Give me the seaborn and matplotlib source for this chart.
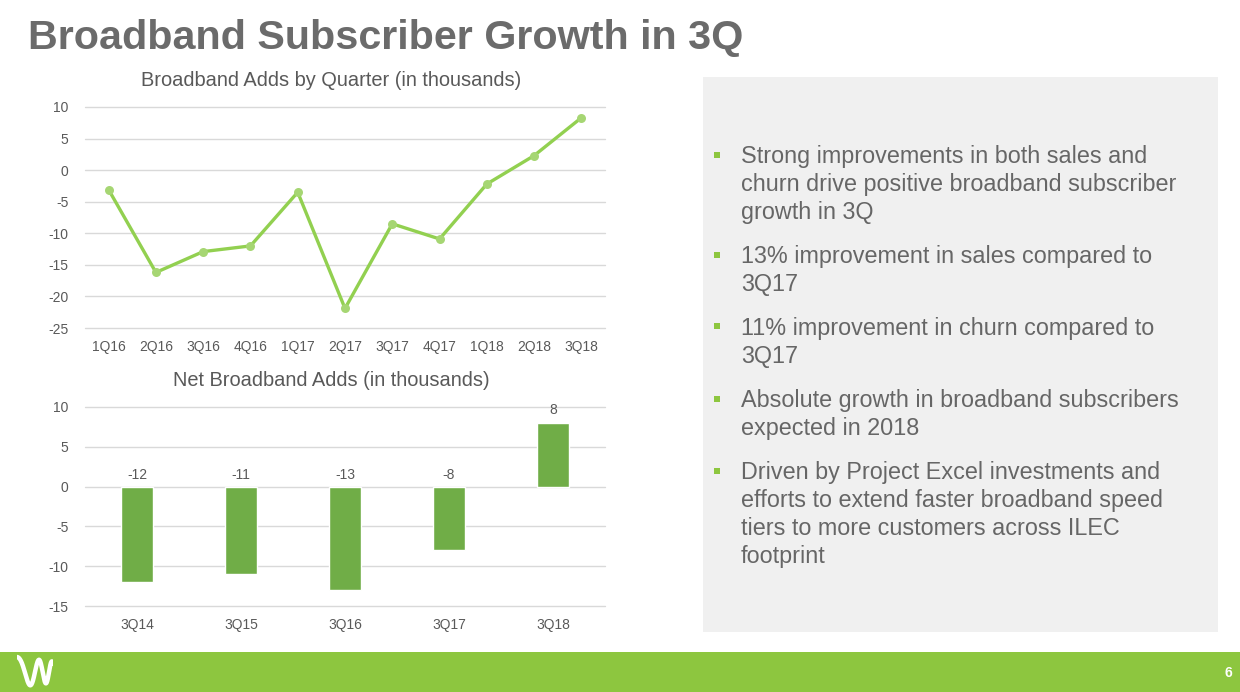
import numpy as np
import pandas as pd
import matplotlib
matplotlib.use("Agg")
import matplotlib.pyplot as plt
from matplotlib.patches import Rectangle
import seaborn as sns

# ---------------- data ----------------
quarters = ["1Q16", "2Q16", "3Q16", "4Q16", "1Q17", "2Q17", "3Q17", "4Q17", "1Q18", "2Q18", "3Q18"]
adds_by_quarter = [-3.1, -16.2, -12.9, -12.0, -3.5, -21.9, -8.5, -10.9, -2.2, 2.3, 8.3]

years = ["3Q14", "3Q15", "3Q16", "3Q17", "3Q18"]
net_adds = [-12, -11, -13, -8, 8]
net_labels = ["-12", "-11", "-13", "-8", "8"]

top_yticks = [10, 5, 0, -5, -10, -15, -20, -25]
bot_yticks = [10, 5, 0, -5, -10, -15]

title = "Broadband Subscriber Growth in 3Q"
top_title = "Broadband Adds by Quarter (in thousands)"
bot_title = "Net Broadband Adds (in thousands)"
bullets = [
    ["Strong improvements in both sales and", "churn drive positive broadband subscriber", "growth in 3Q"],
    ["13% improvement in sales compared to", "3Q17"],
    ["11% improvement in churn compared to", "3Q17"],
    ["Absolute growth in broadband subscribers", "expected in 2018"],
    ["Driven by Project Excel investments and", "efforts to extend faster broadband speed",
     "tiers to more customers across ILEC", "footprint"],
]
page_number = "6"

# ---------------- style ----------------
sns.set_style("white")
plt.rcParams["font.family"] = ["Liberation Sans", "DejaVu Sans"]

W, H = 1240, 692
fig = plt.figure(figsize=(W / 100, H / 100), dpi=100)
fig.patch.set_facecolor("white")

def fx(px):
    return px / W

def fy(py):
    return 1 - py / H

TEXT = "#595959"
GRID = "#D9D9D9"
LINE_GREEN = "#92D050"
MARK_GREEN = "#A6D673"
BAR_GREEN = "#70AD47"
BAND_GREEN = "#8DC63F"

# ---------------- title ----------------
fig.text(fx(28), fy(38), title, fontsize=29.7, fontweight="bold", color="#6B6B6B",
         ha="left", va="center")

# ---------------- top chart ----------------
ax1 = fig.add_axes([fx(85), fy(328), fx(605) - fx(85), (328 - 107) / H])
df1 = pd.DataFrame({"quarter": quarters, "adds": adds_by_quarter})
sns.lineplot(data=df1, x="quarter", y="adds", ax=ax1, color=LINE_GREEN, linewidth=2.4,
             sort=False, zorder=3)
sns.scatterplot(data=df1, x="quarter", y="adds", ax=ax1, color=MARK_GREEN, s=42,
                edgecolor=MARK_GREEN, linewidth=0, zorder=4)
ax1.set_xlim(-0.5, len(quarters) - 0.5)
ax1.set_ylim(-25, 10)
ax1.set_yticks(top_yticks)
ax1.set_yticklabels([str(t) for t in top_yticks])
ax1.set_xlabel("")
ax1.set_ylabel("")
for s in ax1.spines.values():
    s.set_visible(False)
ax1.yaxis.grid(True, color=GRID, linewidth=1)
ax1.set_axisbelow(True)
for gl in ax1.yaxis.get_gridlines():
    gl.set_clip_on(False)
ax1.tick_params(axis="both", length=0, labelsize=10, labelcolor=TEXT)
ax1.tick_params(axis="y", pad=12)
ax1.tick_params(axis="x", pad=9)
ax1.set_facecolor("none")
fig.text(fx(331), fy(80), top_title, fontsize=14.4, color=TEXT, ha="center", va="center")

# ---------------- bottom chart ----------------
ax2 = fig.add_axes([fx(85), fy(606), fx(605) - fx(85), (606 - 407) / H])
df2 = pd.DataFrame({"year": years, "net": net_adds})
sns.barplot(data=df2, x="year", y="net", ax=ax2, color=BAR_GREEN, saturation=1,
            width=0.31, zorder=3)
ax2.set_xlim(-0.5, len(years) - 0.5)
ax2.set_ylim(-15, 10)
ax2.set_yticks(bot_yticks)
ax2.set_yticklabels([str(t) for t in bot_yticks])
ax2.set_xlabel("")
ax2.set_ylabel("")
for s in ax2.spines.values():
    s.set_visible(False)
ax2.yaxis.grid(True, color=GRID, linewidth=1)
ax2.set_axisbelow(True)
for gl in ax2.yaxis.get_gridlines():
    gl.set_clip_on(False)
ax2.tick_params(axis="both", length=0, labelsize=10, labelcolor=TEXT)
ax2.tick_params(axis="y", pad=12)
ax2.tick_params(axis="x", pad=9)
ax2.set_facecolor("none")
for i, (v, lab) in enumerate(zip(net_adds, net_labels)):
    ax2.annotate(lab, xy=(i, max(v, 0)), xytext=(0, 3 if v < 0 else 4),
                 textcoords="offset points", ha="center", va="bottom",
                 fontsize=10, color=TEXT)
fig.text(fx(331), fy(381), bot_title, fontsize=14.4, color=TEXT, ha="center", va="center")

# ---------------- right panel ----------------
fig.patches.append(Rectangle((fx(703), fy(632)), fx(1218) - fx(703), (632 - 77) / H,
                             transform=fig.transFigure, facecolor="#F0F0F0",
                             edgecolor="none", zorder=0))
baselines = [[163, 191, 219], [263, 291], [335, 363], [407, 435], [479, 507, 535, 563]]
for para, bls in zip(bullets, baselines):
    sq = 6
    fig.patches.append(Rectangle((fx(717 - sq / 2), fy(bls[0] - 8.5 + sq / 2)), sq / W, sq / H,
                                 transform=fig.transFigure, facecolor=BAND_GREEN,
                                 edgecolor="none", zorder=1))
    for line, bl in zip(para, bls):
        fig.text(fx(741), fy(bl), line, fontsize=16.8, color="#666666",
                 ha="left", va="baseline")

# ---------------- footer ----------------
fig.patches.append(Rectangle((0, 0), 1, (692 - 652) / H, transform=fig.transFigure,
                             facecolor=BAND_GREEN, edgecolor="none", zorder=0))
fig.text(fx(1228), fy(673), page_number, fontsize=10, fontweight="bold", color="white",
         ha="center", va="center")

# logo: stylised white wave
axl = fig.add_axes([fx(17), fy(690), 36 / W, 36 / H])
axl.set_zorder(10)
axl.set_facecolor("none")
axl.set_xlim(0, 1)
axl.set_ylim(-1.2, 1.2)
axl.axis("off")
t = np.linspace(0, 1, 300)
phase = 2 * np.pi * (0.9 * t + 1.2 * t ** 2)
amp = 1.0 - 0.3 * t
lw = 3.2
axl.plot(t, amp * np.sin(phase + np.pi / 2), color="white", linewidth=lw,
         solid_capstyle="round")

fig.savefig("out.png", dpi=100, facecolor=fig.get_facecolor())
